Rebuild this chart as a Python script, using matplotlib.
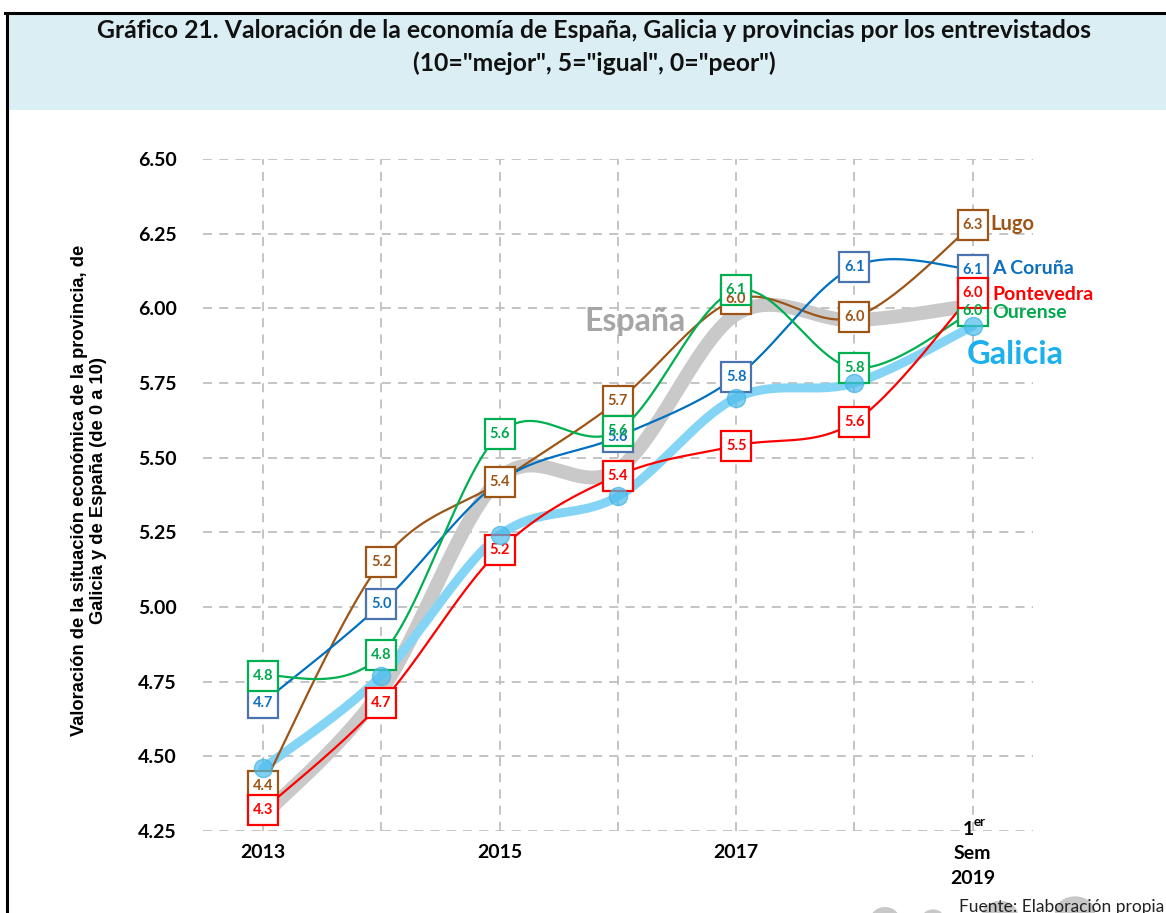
import numpy as np
import matplotlib
matplotlib.use("Agg")
import matplotlib.pyplot as plt
from matplotlib.patches import Rectangle, Circle
from matplotlib.lines import Line2D
import matplotlib.transforms as mtransforms

# ---------------- data ----------------
periods = ["2013", "2014", "2015", "2016", "2017", "2018", "1er Sem 2019"]
tick_labels = ["2013", "", "2015", "", "2017", "", "SEM2019"]

espana = [4.30, 4.72, 5.43, 5.46, 5.98, 5.96, 6.01]
galicia = [4.46, 4.77, 5.24, 5.37, 5.70, 5.75, 5.94]

coruna = [4.68, 5.01, 5.42, 5.57, 5.77, 6.14, 6.13]
coruna_lbl = ["4.7", "5.0", None, "5.6", "5.8", "6.1", "6.1"]

lugo = [4.40, 5.15, 5.42, 5.69, 6.03, 5.97, 6.28]
lugo_lbl = ["4.4", "5.2", "5.4", "5.7", "6.0", "6.0", "6.3"]

ourense = [4.77, 4.84, 5.58, 5.59, 6.06, 5.80, 5.99]
ourense_lbl = ["4.8", "4.8", "5.6", "5.6", "6.1", "5.8", "6.0"]

pontevedra = [4.32, 4.68, 5.19, 5.44, 5.54, 5.62, 6.05]
pontevedra_lbl = ["4.3", "4.7", "5.2", "5.4", "5.5", "5.6", "6.0"]

yticks = [4.25, 4.50, 4.75, 5.00, 5.25, 5.50, 5.75, 6.00, 6.25, 6.50]

# ---------------- helpers ----------------
W, H = 1166, 913


def fx(px):
    return px / W


def fy(py):
    return 1 - py / H


def smooth(xs, ys, n=30):
    pts = np.column_stack([xs, ys]).astype(float)
    out = []
    for i in range(len(pts) - 1):
        p0 = pts[i - 1] if i > 0 else pts[i]
        p1 = pts[i]
        p2 = pts[i + 1]
        p3 = pts[i + 2] if i + 2 < len(pts) else pts[i + 1]
        c1 = p1 + (p2 - p0) / 6.0
        c2 = p2 - (p3 - p1) / 6.0
        t = np.linspace(0, 1, n)[:, None]
        seg = ((1 - t) ** 3) * p1 + 3 * ((1 - t) ** 2) * t * c1 + 3 * (1 - t) * t ** 2 * c2 + t ** 3 * p2
        if i > 0:
            seg = seg[1:]
        out.append(seg)
    out = np.vstack(out)
    return out[:, 0], out[:, 1]


FONT = "Lato"
plt.rcParams["font.family"] = [FONT, "DejaVu Sans"]

fig = plt.figure(figsize=(W / 100, H / 100), dpi=100)

# frame and title band
fig.patches.append(Rectangle((fx(7), fy(110)), fx(1166) - fx(7), fy(14) - fy(110),
                             transform=fig.transFigure, facecolor="#DAEEF3", edgecolor="none", zorder=0))
fig.lines.append(Line2D([fx(5), fx(1166)], [fy(13), fy(13)], transform=fig.transFigure,
                        color="black", lw=2.2))
fig.lines.append(Line2D([fx(7), fx(7)], [fy(13), 0], transform=fig.transFigure,
                        color="black", lw=2.2))

fig.text(fx(594), fy(31), "Gráfico 21. Valoración de la economía de España, Galicia y provincias por los entrevistados",
         ha="center", va="center", fontsize=17.8, fontweight="bold", color="#111111")
fig.text(fx(594), fy(63), '(10="mejor", 5="igual", 0="peor")',
         ha="center", va="center", fontsize=17.8, fontweight="bold", color="#111111")

# axes
ax = fig.add_axes([fx(203), fy(831), fx(1033) - fx(203), fy(159) - fy(831)])
x = np.arange(len(periods))
ax.set_xlim(-0.507, 6.51)
ax.set_ylim(4.25, 6.50)
for s in ax.spines.values():
    s.set_visible(False)
ax.set_yticks(yticks)
ax.set_yticklabels([f"{v:.2f}" for v in yticks], fontsize=14, fontweight="bold")
ax.tick_params(axis="y", length=0, pad=19)
ax.set_xticks(x)
ax.set_xticklabels([])
ax.tick_params(axis="x", length=0)
ax.grid(True, color="#BFBFBF", linestyle=(0, (5, 4)), linewidth=1.3)
ax.set_axisbelow(True)

# x tick labels (manual, centred)
trans = mtransforms.blended_transform_factory(ax.transData, fig.transFigure)
TK = 14
for xi, lab in zip(x, tick_labels):
    if lab == "SEM2019":
        ax.text(xi - 0.035, fy(829), "1", transform=trans, ha="center", va="center",
                fontsize=TK, fontweight="bold", clip_on=False)
        ax.text(xi + 0.01, fy(822), "er", transform=trans, ha="left", va="center",
                fontsize=9.5, fontweight="bold", clip_on=False)
        ax.text(xi, fy(853), "Sem", transform=trans, ha="center", va="center",
                fontsize=TK, fontweight="bold", clip_on=False)
        ax.text(xi, fy(878), "2019", transform=trans, ha="center", va="center",
                fontsize=TK, fontweight="bold", clip_on=False)
    elif lab:
        ax.text(xi, fy(852), lab, transform=trans, ha="center", va="center",
                fontsize=TK, fontweight="bold", clip_on=False)

# y label
fig.text(fx(89), fy(490),
         "Valoración de la situación económica de la provincia, de\nGalicia y de España (de 0 a 10)",
         rotation=90, ha="center", va="center", multialignment="center",
         fontsize=13.2, fontweight="bold", family="Liberation Sans", linespacing=1.2)

# España
sx, sy = smooth(x, espana)
ax.plot(sx, sy, color="#C9C9C9", lw=10, solid_capstyle="butt", zorder=2)
fig.text(fx(635), fy(322), "España", ha="center", va="center", fontsize=23,
         fontweight="bold", color="#A6A6A6", zorder=3)

# Galicia line
gx, gy = smooth(x, galicia)
ax.plot(gx, gy, color="#84D4F6", lw=6.5, solid_capstyle="round", zorder=3)

# provinces
series = [
    (lugo, lugo_lbl, "#9C5516", "#9C5516", "#9C5516"),
    (coruna, coruna_lbl, "#0070C0", "#4A73B0", "#0F6FBF"),
    (ourense, ourense_lbl, "#00B050", "#00B050", "#00A84C"),
    (pontevedra, pontevedra_lbl, "#FF0000", "#FF0000", "#FF0000"),
]
for vals, lbls, lc, bc, tc in series:
    px_, py_ = smooth(x, vals)
    ax.plot(px_, py_, color=lc, lw=1.6, zorder=4)
for vals, lbls, lc, bc, tc in series:
    for xi, v, lb in zip(x, vals, lbls):
        if lb is None:
            continue
        ax.plot([xi], [v], marker="s", ms=21, mfc="white", mec=bc, mew=1.6, zorder=6)
        ax.text(xi, v, lb, ha="center", va="center", fontsize=10.5, fontweight="bold",
                color=tc, zorder=7)

# Galicia markers on top
ax.plot(x, galicia, "o", ms=13, color="#4DBDEC", alpha=0.7, mec="#3FB2E6", mew=1, zorder=8)

# right-side labels
fig.text(fx(990), fy(224), "Lugo", ha="left", va="center", fontsize=14.5, fontweight="bold", color="#9C5516")
fig.text(fx(992), fy(268), "A Coruña", ha="left", va="center", fontsize=14, fontweight="bold", color="#0F6FBF")
fig.text(fx(992), fy(294), "Pontevedra", ha="left", va="center", fontsize=14, fontweight="bold", color="#FF0000")
fig.text(fx(992), fy(313), "Ourense", ha="left", va="center", fontsize=14, fontweight="bold", color="#00A84C")
fig.text(fx(967), fy(354), "Galicia", ha="left", va="center", fontsize=23.5, fontweight="bold", color="#1CB0EE")

# decorative footer
for cx, cy, r in [(885, 918, 14), (933, 918, 11), (1000, 915, 18), (1075, 912, 20)]:
    fig.patches.append(Circle((fx(cx), fy(cy)), r / W, transform=fig.transFigure,
                              facecolor="#C8C8C8", edgecolor="none", zorder=1))
fig.text(fx(959), fy(899), "Fuente: Elaboración propia", ha="left", va="top",
         fontsize=12.5, color="#222222", zorder=5)

fig.savefig("out.png", dpi=100)
